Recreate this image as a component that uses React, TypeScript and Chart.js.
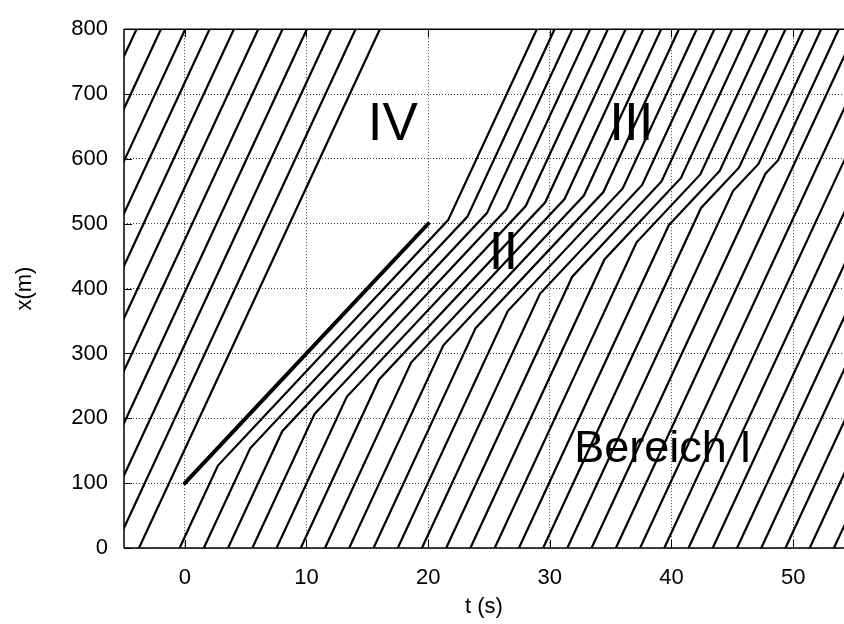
import React, { useEffect, useRef } from "react";
import { Chart, registerables } from "chart.js";

Chart.register(...registerables);

// Axis ranges and ticks
const tMin = -5;
const tMax = 54.18;
const xMin = 0;
const xMax = 800;
const tStep = 10;
const xStep = 100;

// Slow vehicle (moving bottleneck): [t, x]
const truckPath: number[][] = [
  [0, 100],
  [20, 500],
];

// Vehicles ahead of the truck: [t at x=0, t at x=800]
const aheadVehicles: number[][] = [
  [-3.77, 16.03],
  [-5.77, 14.03],
  [-7.77, 12.03],
  [-9.77, 10.03],
  [-11.77, 8.03],
  [-13.77, 6.03],
  [-15.77, 4.03],
  [-17.77, 2.03],
  [-19.77, 0.03],
  [-21.77, -1.97],
  [-23.77, -3.97],
];

// Vehicles that queue behind the truck:
// [t at x=0, t enter II, x enter II, t enter III, x enter III, t at x=800]
const queuedVehicles: number[][] = [
  [-0.43, 2.72, 127.2, 21.64, 505.6, 28.93],
  [1.56, 5.37, 153.7, 23.23, 511.0, 30.39],
  [3.55, 8.01, 180.1, 24.83, 516.4, 31.85],
  [5.55, 10.66, 206.6, 26.42, 521.8, 33.31],
  [7.54, 13.31, 233.1, 28.02, 527.3, 34.77],
  [9.53, 15.95, 259.5, 29.61, 532.7, 36.23],
  [11.52, 18.6, 286.0, 31.21, 538.1, 37.69],
  [13.51, 21.25, 312.5, 32.8, 543.5, 39.15],
  [15.51, 23.9, 339.0, 34.4, 548.9, 40.61],
  [17.5, 26.54, 365.4, 35.99, 554.4, 42.07],
  [19.49, 29.19, 391.9, 37.59, 559.8, 43.53],
  [21.48, 31.84, 418.4, 39.18, 565.2, 44.99],
  [23.47, 34.49, 444.9, 40.78, 570.6, 46.45],
  [25.47, 37.13, 471.3, 42.37, 576.1, 47.91],
  [27.46, 39.78, 497.8, 43.96, 581.5, 49.37],
  [29.45, 42.43, 524.3, 45.56, 586.9, 50.83],
  [31.44, 45.07, 550.7, 47.15, 592.3, 52.3],
  [33.43, 47.72, 577.2, 48.75, 597.7, 53.75],
];

// Later free-flow vehicles: [t at x=0, t at x=800]
const laterVehicles: number[][] = [
  [35.43, 55.23],
  [37.42, 57.22],
  [39.41, 59.21],
  [41.4, 61.2],
  [43.39, 63.19],
  [45.39, 65.19],
  [47.38, 67.18],
  [49.37, 69.17],
  [51.36, 71.16],
  [53.35, 73.15],
];

// Region labels: [text, t, x, size]
const regionLabels: (string | number)[][] = [
  ["IV", 17.1, 652, 53],
  ["III", 36.7, 652, 53],
  ["II", 26.2, 452, 53],
  ["Bereich I", 39.3, 151, 45],
];

const FONT = "'Liberation Sans', Arial, Helvetica, sans-serif";
const LABEL_SIZE = 22;

export default function App() {
  const ref = useRef<HTMLCanvasElement | null>(null);

  useEffect(() => {
    const canvas = ref.current;
    if (!canvas) return;

    const thin = (pts: number[][]) => ({
      data: pts.map(([x, y]) => ({ x, y })),
      showLine: true,
      borderColor: "#000",
      borderWidth: 2.2,
      pointRadius: 0,
      tension: 0,
      fill: false,
    });

    const datasets: any[] = [];
    aheadVehicles.forEach(([a, b]) => datasets.push(thin([[a, xMin], [b, xMax]])));
    queuedVehicles.forEach(([t0, t1, x1, t2, x2, t3]) =>
      datasets.push(thin([[t0, xMin], [t1, x1], [t2, x2], [t3, xMax]]))
    );
    laterVehicles.forEach(([a, b]) => datasets.push(thin([[a, xMin], [b, xMax]])));
    datasets.push({ ...thin(truckPath), borderWidth: 4, borderCapStyle: "round" });

    const framePlugin = {
      id: "frame",
      afterDatasetsDraw(chart: any) {
        const { ctx, chartArea: a, scales } = chart;
        const xs = scales.x;
        const ys = scales.y;
        ctx.save();
        // region labels
        ctx.fillStyle = "#000";
        ctx.strokeStyle = "#000";
        ctx.textAlign = "center";
        ctx.textBaseline = "middle";
        regionLabels.forEach(([txt, t, x, size]) => {
          ctx.font = `${size}px ${FONT}`;
          ctx.fillText(String(txt), xs.getPixelForValue(t as number), ys.getPixelForValue(x as number));
        });
        // frame
        ctx.lineWidth = 1.5;
        ctx.beginPath();
        ctx.moveTo(a.left, a.top);
        ctx.lineTo(a.right + 2, a.top);
        ctx.moveTo(a.left, a.top);
        ctx.lineTo(a.left, a.bottom);
        ctx.moveTo(a.left, a.bottom);
        ctx.lineTo(a.right + 2, a.bottom);
        ctx.stroke();
        ctx.lineWidth = 1;
        ctx.beginPath();
        xs.ticks.forEach((tk: any) => {
          const px = Math.round(xs.getPixelForValue(tk.value)) + 0.5;
          ctx.moveTo(px, a.bottom);
          ctx.lineTo(px, a.bottom - 8);
          ctx.moveTo(px, a.top);
          ctx.lineTo(px, a.top + 8);
        });
        ys.ticks.forEach((tk: any) => {
          const py = Math.round(ys.getPixelForValue(tk.value)) + 0.5;
          ctx.moveTo(a.left, py);
          ctx.lineTo(a.left + 8, py);
        });
        ctx.stroke();
        ctx.restore();
      },
    };

    const chart = new Chart(canvas, {
      type: "scatter",
      data: { datasets },
      options: {
        animation: false,
        responsive: false,
        devicePixelRatio: 1,
        layout: { padding: { top: 23, right: 0, left: 0, bottom: 0 } },
        plugins: { legend: { display: false }, tooltip: { enabled: false } },
        scales: {
          x: {
            type: "linear",
            min: tMin,
            max: tMax,
            afterFit: (s: any) => {
              s.height = 76;
            },
            ticks: {
              stepSize: tStep,
              includeBounds: false,
              color: "#000",
              padding: 17,
              maxRotation: 0,
              font: { family: FONT, size: LABEL_SIZE },
            },
            grid: { color: "rgba(0,0,0,0.75)", lineWidth: 1, drawTicks: false },
            border: { display: false, dash: [1, 2] },
            title: {
              display: true,
              text: "t (s)",
              color: "#000",
              font: { family: FONT, size: LABEL_SIZE },
              padding: { top: 0, bottom: 4 },
            },
          },
          y: {
            type: "linear",
            min: xMin,
            max: xMax,
            afterFit: (s: any) => {
              s.width = 124;
            },
            ticks: {
              stepSize: xStep,
              color: "#000",
              padding: 16,
              font: { family: FONT, size: LABEL_SIZE },
            },
            grid: { color: "rgba(0,0,0,0.75)", lineWidth: 1, drawTicks: false },
            border: { display: false, dash: [1, 2] },
            title: {
              display: true,
              text: "x(m)",
              color: "#000",
              font: { family: FONT, size: LABEL_SIZE },
              padding: { top: 12, bottom: 0 },
            },
          },
        },
      },
      plugins: [framePlugin],
    });

    return () => chart.destroy();
  }, []);

  return (
    <div style={{ position: "absolute", left: 0, top: 0, width: 844, height: 624, background: "#fff" }}>
      <canvas ref={ref} width={844} height={624} style={{ display: "block" }} />
    </div>
  );
}
